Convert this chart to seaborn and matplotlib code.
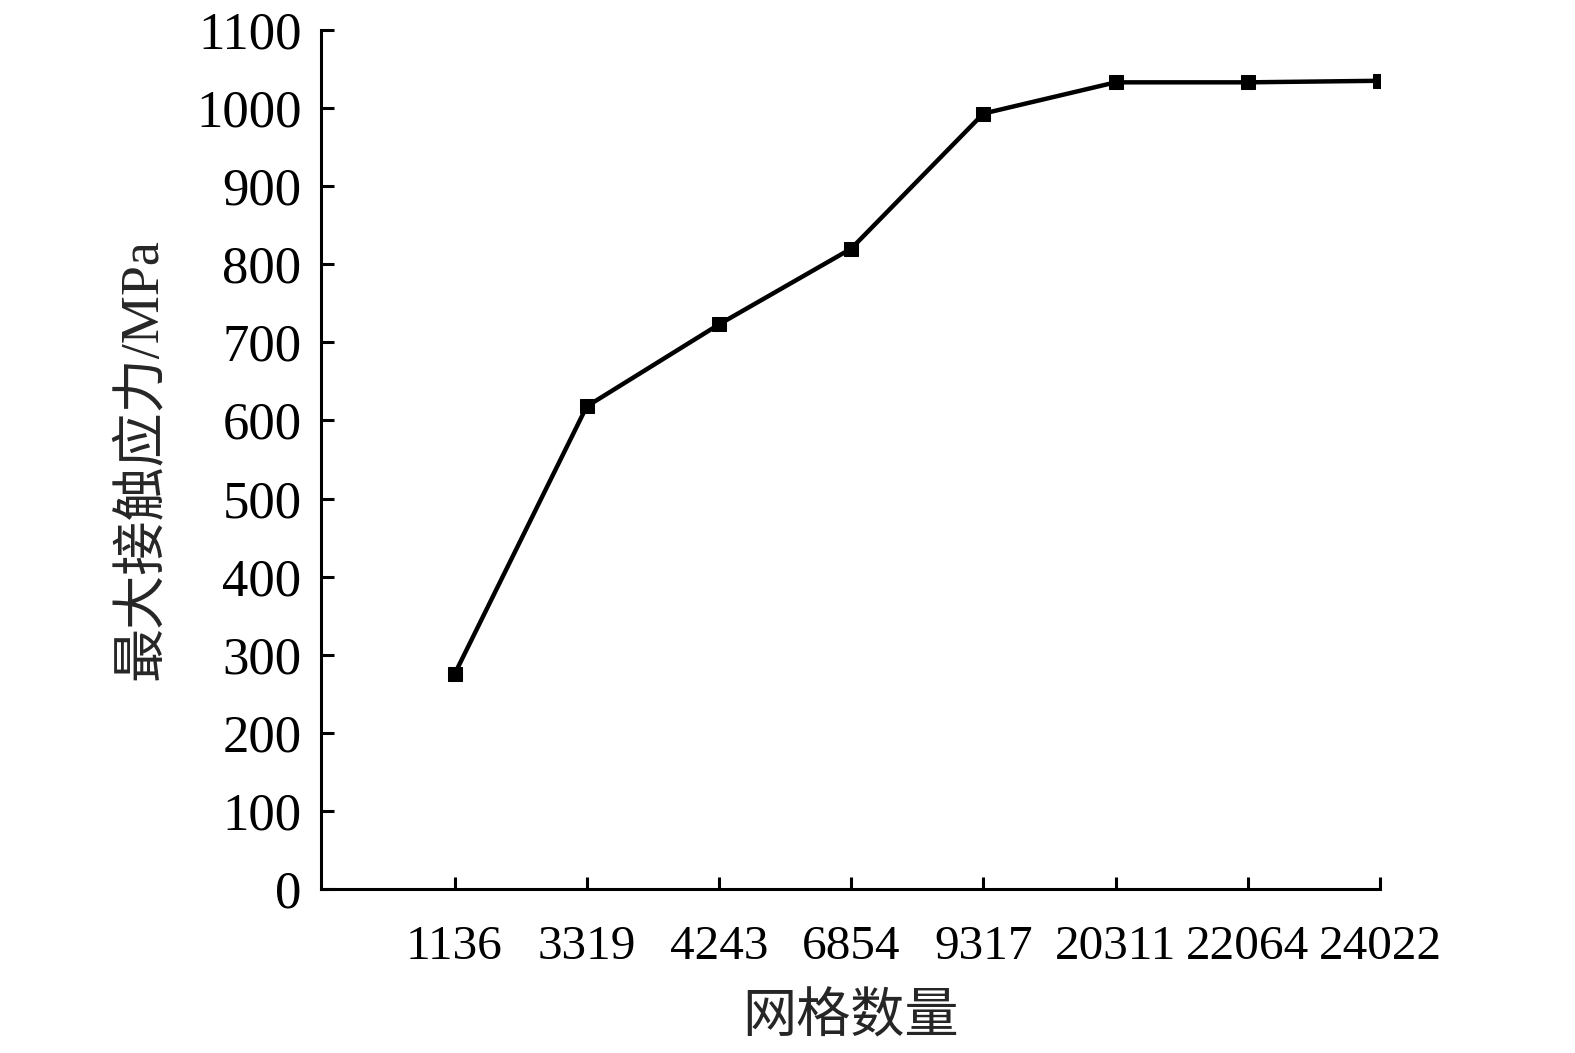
import pandas as pd
import matplotlib
matplotlib.use("Agg")
import matplotlib.pyplot as plt
import seaborn as sns

mesh_counts = ["1136", "3319", "4243", "6854", "9317", "20311", "22064", "24022"]
max_stress = [275, 618, 723, 820, 993, 1033, 1033, 1035]
y_ticks = list(range(0, 1101, 100))

sns.set_style("ticks")
plt.rcParams['font.family'] = ['Liberation Serif', 'Noto Sans CJK SC']

df = pd.DataFrame({"mesh": mesh_counts, "stress": max_stress})
df["pos"] = range(len(df))

fig = plt.figure(figsize=(15.75, 10.53), dpi=100)
ax = fig.add_axes([0.2038, 0.1557, 0.6724, 0.8158])

sns.lineplot(data=df, x="pos", y="stress", ax=ax, color="black",
             linewidth=3.2, marker="s", markersize=9.5, markeredgecolor="black")

ax.set_xlim(-1.01, 7)
ax.set_ylim(0, 1100)
ax.set_xticks(df["pos"])
ax.set_xticklabels(mesh_counts)
ax.set_yticks(y_ticks)

for side in ["top", "right"]:
    ax.spines[side].set_visible(False)
for side in ["left", "bottom"]:
    ax.spines[side].set_linewidth(2.2)
    ax.spines[side].set_color("black")

ax.tick_params(axis="both", direction="in", length=9, width=2.2, colors="black")
ax.tick_params(axis="x", pad=26, labelsize=35.5)
ax.tick_params(axis="y", pad=14, labelsize=38)

ax.set_xlabel("网格数量", fontsize=39, labelpad=18)
ax.set_ylabel("最大接触应力/MPa", fontsize=39, labelpad=20)

fig.savefig("out.png", dpi=100)
